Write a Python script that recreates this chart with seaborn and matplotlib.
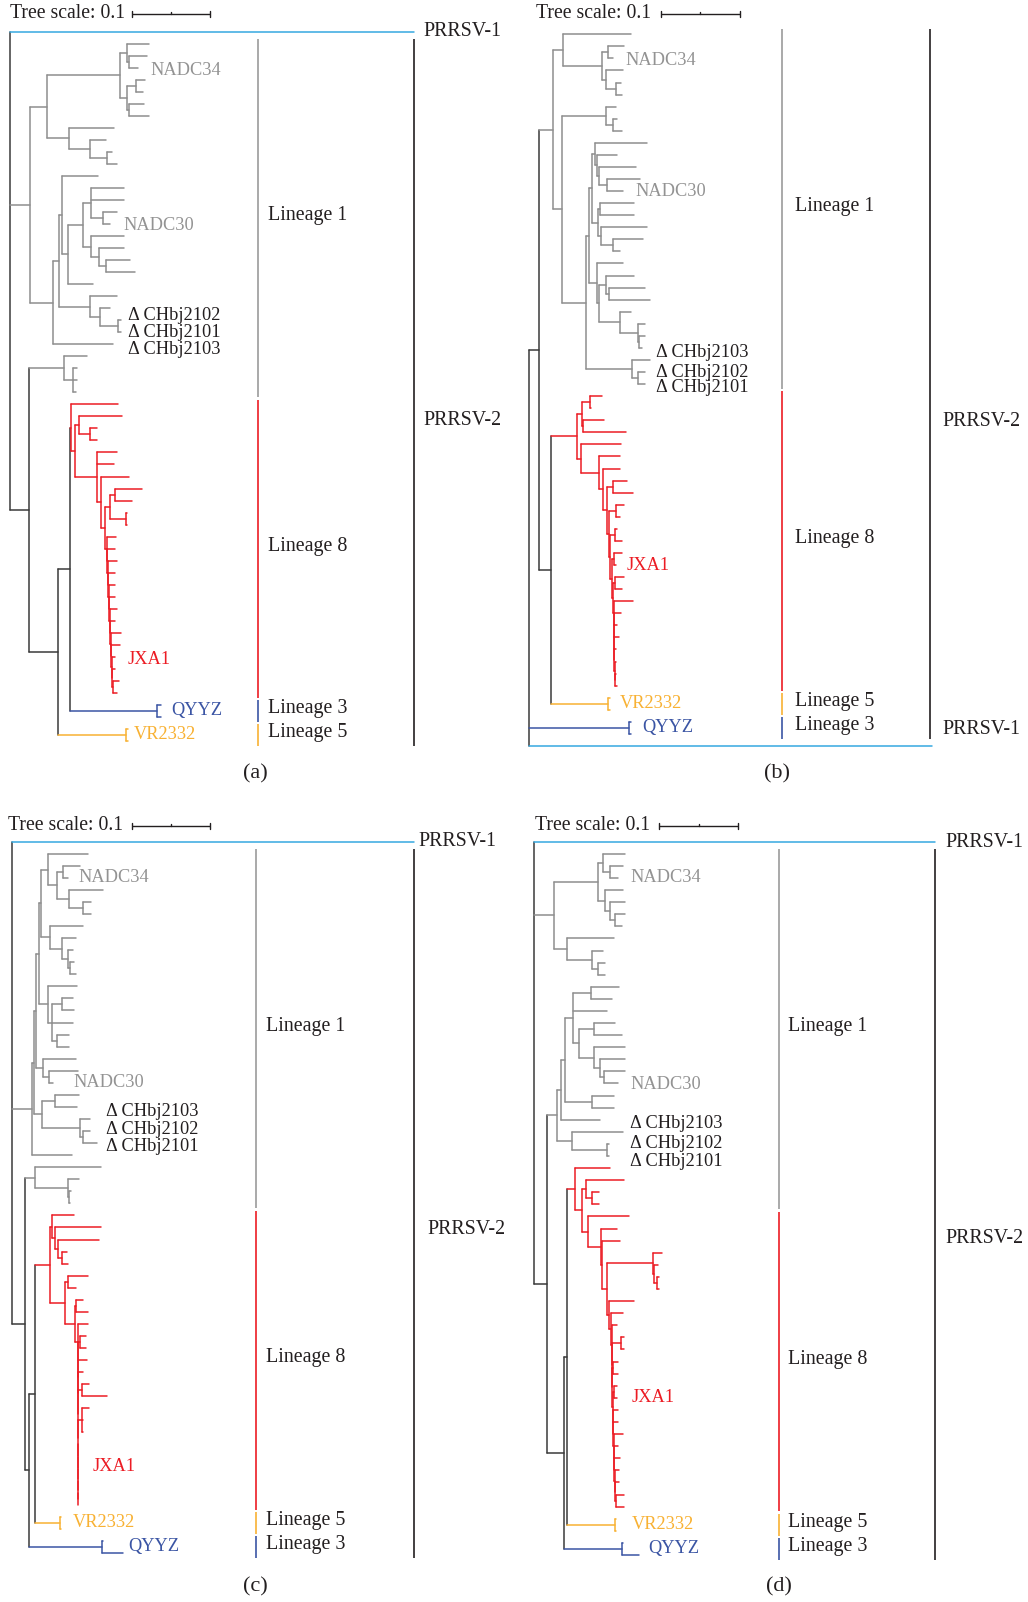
import matplotlib
matplotlib.use("Agg")
import matplotlib.pyplot as plt
from matplotlib.transforms import offset_copy
import pandas as pd
import seaborn as sns

FIG_W, FIG_H = 1028, 1602

# ------------------------------------------------------------------ data
SCALE_VALUE = 0.1          # substitutions/site shown by the scale bar
UNITS_PER_SCALE = 78.5     # Newick distance units equal to SCALE_VALUE

# Newick strings: the number after ':' is the node's distance from the root
COMB_A = ("(:106,(:105,(:107,(:105,(:105,(:105,(:107,(:105,(:111,(:110,(JXA1:105,(:105,(:109,:107):103"
          "):102):102):101):101):100):100):99):99):98):98):97):97")
TREE_A = ("(PRRSV-1:404,"
          "((((:139,(:137,NADC34:128):119):117,((:135,:133):126,(:134,:139):119):117):110,"
          "(:104,(:96,(:102,:107):97):80):59):37,"
          "(((:88,(((:114,:114,(:107,NADC30:100):93):81,(:114,(:114,(:120,:125):96):89):81):73,:83):58):52,"
          "(:107,(:100,(CHbj2102:111,CHbj2101:111):108):90):80):49,CHbj2103:103):43)L1:20,"
          "((:77,(:67,:67,:66):63)L1b:54,"
          "(((:108,((:112,(:87,:87):80):69,(:107,:104,(:119,(((:132,:122):105,(:117,:117):116):100,"
          + COMB_A +
          "):95):91):87):65)L8:61,(:151,:151)QYYZ:147):60,(:118,:118)VR2332:116):48):19)")

COMB_B = "(:92,(:88,(:90,(:87,(:87,(:87,:88):86):86):85):85):85):85"
L1_B = ("((:102,((:95,NADC34:84):79,(:94,(:92,:93):87):77):73):34,"
        "((:87,(:88,:93):84):77,"
        "((((:118,(:88,(:107,(:111,NADC30:94):78):70):68):66,((:105,:105):71,(:118,(:114,:91):84):72):69):63,"
        "(:94,((:105,(:116,:121):80):77,(:102,(:116,(:116,:113):110):109):91):70):68):60,"
        "(CHbj2103:121,(CHbj2102:116,CHbj2101:116):109):103):57):33)L1:24")
RED_B = ("(((:73,:62):61,(:75,:97):54):53,"
         "(:92,(:91,(:91,((:98,:104):84,((:95,:91):87,((:88,:93):86,((:93,JXA1:87):85,((:95,:93):86,(:104,"
         + COMB_B +
         "):84.5):84):83):81):80):78):74):70):52)L8:48")
TREE_B = ("((" + L1_B + ",(" + RED_B + ",(:81,:81)VR2332:79):22):10,"
          "(:102,:102)QYYZ:100,PRRSV-1:403)")

COMB_C = ("(:76,((:74,:74):68,(:75,(:71,((:77,:95):70,((:77,:71,:71):70,"
          "(:66,(:66,(JXA1:66,(:66,(:66,:66):66):66):66):66):66):66):66):66):66):66):66")
L1_C = ("((((((:76,((:68,NADC34:56):51,(:91,(:79,:79):71):57):45):36,"
        "(:71,(:64,(:61,(:62,:64):58):56):50):38):29,"
        "(:65,((:61,:62):50,:61,(:57,:57):45):40):36):27,"
        "(:64,(:66,NADC30:41):37):31):24,"
        "((:67,:65):43,(CHbj2103:78,(CHbj2102:78,CHbj2101:85):71):68):30):22,:60)L1:20")
RED_C = ("((:62,(:89,(:87,(:55,:56):50):46):43):40,((:76,:64):56,((:71,:76):64,"
         + COMB_C + "):63):53)L8:38")
TREE_C = ("(PRRSV-1:402," + L1_C + ",((:89,(:67,(:59,:58):57):56)L1b:23,((" + RED_C +
          ",(:49,:49)VR2332:48):23,(:91,:111)QYYZ:90):17):13)")

T_D = ("(((:91,(:89,NADC34:84):76):69,(:89,(:91,(:91,:88):81):76):71):64,"
       "(:80,(:69,(:71,:71):64):58):33)L1:20")
U_D = ("(((((:85,:78):57,:73,((:81,:88):60,(:91,(:91,(:91,NADC30:84):70):66):60):45):39,"
       "(:80,:80):58):31,:66):27,(CHbj2103:89,(CHbj2102:75,CHbj2101:75):73):38)L1b:23")
COMB_D = ("(:83,((:90,:90):87,((:84,:84):79.3,((:83,JXA1:83):79.7,(:84,(:84,(:89,(:84,(:86,(:85,"
          "(:85,(:90,:90):82):81):80.6):80.3):80):79.6):79.3):79):78.6):78.3):78):77.5")
RED_D = ("(:76,((:90,(:65,:65):58):52,(:95,(:83,(:86,((:128,(:124,(:125,:125):123):120):119,"
         "(:100,(:89," + COMB_D + "):77):75):73):68):67):54):48)L8:41")
TREE_D = ("(PRRSV-1:401," + T_D + ",(" + U_D + ",((" + RED_D +
          ",(:82,:82)VR2332:81):33,(:89,:105)QYYZ:88):30):13)")

TREES = {"a": TREE_A, "b": TREE_B, "c": TREE_C, "d": TREE_D}

CLADE_GROUP = {"PRRSV-1": "P1", "L1": "L1", "L1b": "L1", "L8": "L8",
               "QYYZ": "L3", "VR2332": "L5"}
GROUP_COLORS = {"base": "#3a3a3a", "P1": "#35a8e0", "L1": "#8e8e8e",
                "L8": "#ec1c24", "L3": "#3b55a4", "L5": "#f8b133"}
STRIP_COLORS = {"L1": "#9b9b9b", "L8": "#ec1c24", "L3": "#3b55a4", "L5": "#f8b133"}
LINEAGE_NAMES = {"L1": "Lineage 1", "L8": "Lineage 8", "L3": "Lineage 3", "L5": "Lineage 5"}

# lineage strips as drawn: (group, first leaf, last leaf)
LINEAGE_STRIPS = {
    "a": [("L1", 1, 30), ("L8", 31, 55), ("L3", 56, 57), ("L5", 58, 59)],
    "b": [("L1", 0, 29), ("L8", 30, 54), ("L5", 55, 56), ("L3", 57, 58)],
    "c": [("L1", 1, 30), ("L8", 31, 55), ("L5", 56, 57), ("L3", 58, 59)],
    "d": [("L1", 1, 30), ("L8", 31, 55), ("L5", 56, 57), ("L3", 58, 59)],
}
PRRSV2_SPAN = {"a": (1, 59), "b": (0, 58), "c": (1, 59), "d": (1, 59)}

TEXT_BLACK = "#231f20"
NODE_TEXT = {
    "NADC34": ("NADC34", "#939393"),
    "NADC30": ("NADC30", "#939393"),
    "CHbj2101": ("Δ CHbj2101", TEXT_BLACK),
    "CHbj2102": ("Δ CHbj2102", TEXT_BLACK),
    "CHbj2103": ("Δ CHbj2103", TEXT_BLACK),
    "JXA1": ("JXA1", "#ec1c24"),
    "QYYZ": ("QYYZ", "#3b55a4"),
    "VR2332": ("VR2332", "#f8b133"),
}
PANEL_TAGS = {"a": "(a)", "b": "(b)", "c": "(c)", "d": "(d)"}

# ------------------------------------------------------------------ layout (pixels)
LAYOUT = {
    "a": dict(root_x=10, y_first=31.7, y_last=741, strip_x=257.5, strip_lab_x=267.7,
              p2_x=414, p2_lab_x=423, p2_lab_dy=28, p1_lab_x=423, p1_lab_dy=0,
              scale_text=(10, 14), scale_bar_x=131.7, tag=(255.5, 773.5),
              offsets={"NADC34": (12, 3), "NADC30": (13, 1), "CHbj2102": (7, -5),
                       "CHbj2101": (7, 0), "CHbj2103": (15, 5), "JXA1": (13, 3),
                       "QYYZ": (10, 0), "VR2332": (6, 0)}),
    "b": dict(root_x=529, y_first=34.3, y_last=746, strip_x=782, strip_lab_x=795,
              p2_x=930, p2_lab_x=942.5, p2_lab_dy=37, p1_lab_x=942.5, p1_lab_dy=-17,
              scale_text=(536, 14), scale_bar_x=661, tag=(776.7, 773.5),
              offsets={"NADC34": (12, 2), "NADC30": (12, 0), "CHbj2103": (6, -7),
                       "CHbj2102": (11, 0), "CHbj2101": (11, 3), "JXA1": (11, 0),
                       "VR2332": (10, 0), "QYYZ": (11, 0)}),
    "c": dict(root_x=12, y_first=841.7, y_last=1553, strip_x=255.5, strip_lab_x=265.8,
              p2_x=414, p2_lab_x=427, p2_lab_dy=26, p1_lab_x=418, p1_lab_dy=0,
              scale_text=(8.5, 826), scale_bar_x=131.7, tag=(255.5, 1586.8),
              offsets={"NADC34": (10, 0), "NADC30": (20, 0), "CHbj2103": (16, -7),
                       "CHbj2102": (16, -2), "CHbj2101": (9, 3), "JXA1": (15, -2),
                       "VR2332": (12, 0), "QYYZ": (5, 0)}),
    "d": dict(root_x=534, y_first=841.7, y_last=1555, strip_x=779, strip_lab_x=788,
              p2_x=935, p2_lab_x=945.5, p2_lab_dy=34, p1_lab_x=945.5, p1_lab_dy=1,
              scale_text=(535, 826), scale_bar_x=659.3, tag=(778.7, 1586.8),
              offsets={"NADC34": (12, 0), "NADC30": (12, 1.5), "CHbj2103": (7, -8.6),
                       "CHbj2102": (21, -0.7), "CHbj2101": (21, 5.7), "JXA1": (15, 0),
                       "VR2332": (16, 0), "QYYZ": (9, 0)}),
}
STRIP_LAB_DY = -2.5

LEAF_FS, STRIP_FS, SCALE_FS, TAG_FS = 13.2, 14.4, 14.2, 16
LW = 1.1


# ------------------------------------------------------------------ helpers
def parse_newick(text):
    s = "".join(text.split())
    pos = 0

    def read_node():
        nonlocal pos
        kids = []
        if s[pos] == "(":
            pos += 1
            kids.append(read_node())
            while s[pos] == ",":
                pos += 1
                kids.append(read_node())
            if s[pos] != ")":
                raise ValueError(f"bad newick near {pos}: {s[pos-20:pos+20]}")
            pos += 1
        start = pos
        while pos < len(s) and s[pos] not in ":,();":
            pos += 1
        name = s[start:pos]
        dist = 0.0
        if pos < len(s) and s[pos] == ":":
            pos += 1
            start = pos
            while pos < len(s) and s[pos] not in ",();":
                pos += 1
            dist = float(s[start:pos])
        return {"name": name, "x": dist, "kids": kids}

    root = read_node()
    if pos != len(s):
        raise ValueError(f"trailing text at {pos}: {s[pos:pos+30]}")
    return root


def layout_tree(node, leaves, named, group):
    node["group"] = CLADE_GROUP.get(node["name"], group)
    if node["name"]:
        named[node["name"]] = node
    if not node["kids"]:
        node["y"] = len(leaves)
        node["tip"] = node["x"]
        leaves.append(node)
    else:
        for k in node["kids"]:
            if k["x"] < node["x"]:
                raise ValueError(f"negative branch under {node['name']}")
            layout_tree(k, leaves, named, node["group"])
        node["y"] = (node["kids"][0]["y"] + node["kids"][-1]["y"]) / 2
        node["tip"] = max(k["tip"] for k in node["kids"])


def collect_segments(node, rows):
    for k in node["kids"]:
        sid = len(rows) // 2
        rows.append((node["x"], k["y"], sid, k["group"]))
        rows.append((k["x"], k["y"], sid, k["group"]))
        collect_segments(k, rows)
    if node["kids"]:
        sid = len(rows) // 2
        rows.append((node["x"], node["kids"][0]["y"], sid, node["group"]))
        rows.append((node["x"], node["kids"][-1]["y"], sid, node["group"]))


# ------------------------------------------------------------------ drawing
sns.set_theme(style="white")
plt.rcParams["font.family"] = ["Liberation Serif", "DejaVu Serif"]
plt.rcParams["axes.unicode_minus"] = False

fig = plt.figure(figsize=(FIG_W / 100, FIG_H / 100), dpi=100)
fig.patch.set_facecolor("white")

for key in ["a", "b", "c", "d"]:
    L = LAYOUT[key]
    root = parse_newick(TREES[key])
    leaves, named = [], {}
    layout_tree(root, leaves, named, "base")
    if len(leaves) != 60:
        raise ValueError(f"panel {key}: {len(leaves)} leaves")
    n = len(leaves)
    sp = (L["y_last"] - L["y_first"]) / (n - 1)
    rx = L["root_x"]

    ax = fig.add_axes([0, 0, 1, 1])
    ax.patch.set_alpha(0)

    rows = []
    collect_segments(root, rows)
    df = pd.DataFrame(rows, columns=["x", "y", "seg", "group"])
    groups = [g for g in GROUP_COLORS if g in set(df["group"])]
    sns.lineplot(data=df, x="x", y="y", hue="group", hue_order=groups,
                 units="seg", estimator=None, sort=False,
                 palette=GROUP_COLORS, legend=False, linewidth=LW, ax=ax)

    ax.set_xlim(-rx, FIG_W - rx)
    ax.set_ylim((FIG_H - L["y_first"]) / sp, -L["y_first"] / sp)
    ax.set_axis_off()

    def py(pix):
        return (pix - L["y_first"]) / sp

    # leaf / clade labels
    for name, (dx, dy) in L["offsets"].items():
        node = named[name]
        txt, col = NODE_TEXT[name]
        tr = offset_copy(ax.transData, fig=fig, x=dx, y=-dy, units="dots")
        ax.text(node["tip"], node["y"], txt, transform=tr, ha="left", va="center",
                color=col, fontsize=LEAF_FS)

    # lineage strips
    trs = offset_copy(ax.transData, fig=fig, x=0, y=-STRIP_LAB_DY, units="dots")
    for grp, i0, i1 in LINEAGE_STRIPS[key]:
        xs = L["strip_x"] - rx
        ax.plot([xs, xs], [i0 - 0.4, i1 + 0.4], color=STRIP_COLORS[grp],
                lw=LW + 0.1, solid_capstyle="butt")
        ax.text(L["strip_lab_x"] - rx, (i0 + i1) / 2, LINEAGE_NAMES[grp], transform=trs,
                ha="left", va="center", color=TEXT_BLACK, fontsize=STRIP_FS)

    # PRRSV-2 strip and labels
    j0, j1 = PRRSV2_SPAN[key]
    xp = L["p2_x"] - rx
    ax.plot([xp, xp], [j0 - 0.4, j1 + 0.4], color=TEXT_BLACK, lw=LW + 0.1,
            solid_capstyle="butt")
    tr2 = offset_copy(ax.transData, fig=fig, x=0, y=-L["p2_lab_dy"], units="dots")
    ax.text(L["p2_lab_x"] - rx, (j0 + j1) / 2, "PRRSV-2", transform=tr2,
            ha="left", va="center", color=TEXT_BLACK, fontsize=STRIP_FS)
    p1 = named["PRRSV-1"]
    tr1 = offset_copy(ax.transData, fig=fig, x=0, y=-L["p1_lab_dy"], units="dots")
    ax.text(L["p1_lab_x"] - rx, p1["y"], "PRRSV-1", transform=tr1,
            ha="left", va="center", color=TEXT_BLACK, fontsize=STRIP_FS)

    # tree scale
    tx, ty = L["scale_text"]
    ax.text(tx - rx, py(ty), f"Tree scale: {SCALE_VALUE:g}", ha="left", va="center",
            color=TEXT_BLACK, fontsize=SCALE_FS)
    x0 = L["scale_bar_x"] - rx
    x1 = x0 + UNITS_PER_SCALE
    yb = py(ty)
    t = 3.0 / sp
    ax.plot([x0, x1], [yb, yb], color=TEXT_BLACK, lw=1.0, solid_capstyle="butt")
    ax.plot([x0, x0], [yb - t, yb + t], color=TEXT_BLACK, lw=1.0)
    ax.plot([x1, x1], [yb - t, yb + t], color=TEXT_BLACK, lw=1.0)
    xm = (x0 + x1) / 2
    ax.plot([xm, xm], [yb - 0.8 * t, yb], color=TEXT_BLACK, lw=1.0)

    # panel tag
    gx, gy = L["tag"]
    fig.text(gx / FIG_W, 1 - gy / FIG_H, PANEL_TAGS[key], ha="center", va="center",
             color=TEXT_BLACK, fontsize=TAG_FS)

fig.savefig("out.png", dpi=100, facecolor="white")
